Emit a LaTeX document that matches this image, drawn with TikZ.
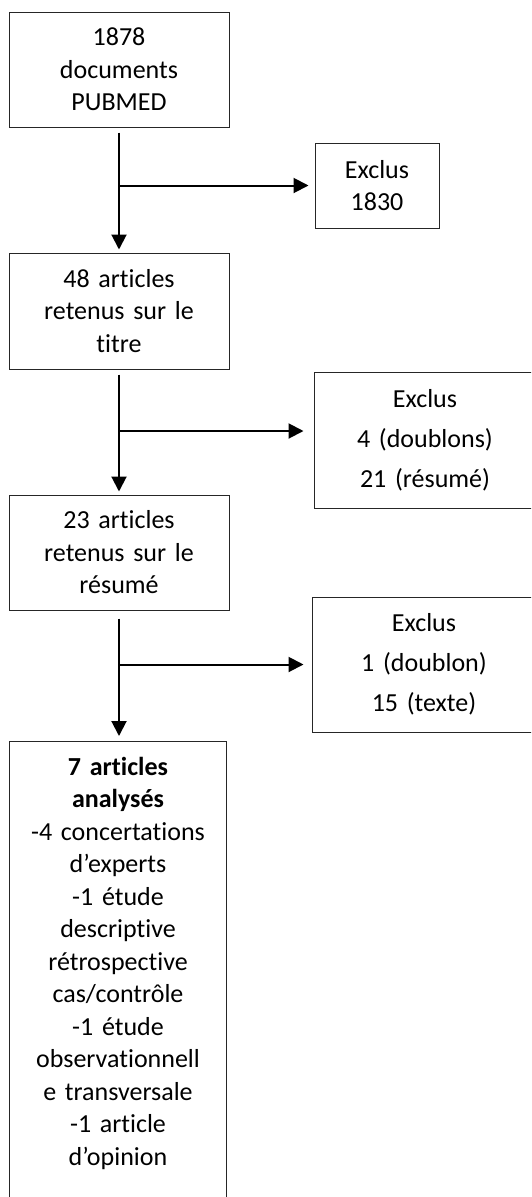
\documentclass[tikz,border=0pt]{standalone}
\usepackage{fontspec}
\setmainfont[Ligatures=NoCommon]{Carlito}
\usetikzlibrary{arrows.meta}
\begin{document}
\begin{tikzpicture}[x=1pt,y=-1pt,>={Triangle[length=15pt,width=15pt]},line join=miter,
	font=\fontsize{26}{32.5}\selectfont,
	box/.style={draw=black!85,line width=1pt,inner sep=0pt,align=center,text width=200pt},
	exbox/.style={box,font=\fontsize{26}{40}\selectfont},
	flow/.style={->,line width=2pt}]
	\clip (0,0) rectangle (531,1197);
	% boites principales
	\node[box,minimum width=220,minimum height=115] (doc) at (119,69.5) {1878\\documents\\PUBMED};
	\node[box,minimum width=220,minimum height=116] (titre) at (119,311) {48 articles\\retenus sur le\\titre};
	\node[box,minimum width=220,minimum height=115] (resume) at (119,552.5) {23 articles\\retenus sur le\\résumé};
	\node[draw=black!85,line width=1pt,minimum width=216.5,minimum height=480,anchor=north] (final) at (118,741) {};
	\node[align=center,text width=210pt,inner sep=0pt,anchor=north] (finaltxt) at ([yshift=-16pt]final.north)
	{\textbf{7 articles}\\\textbf{analysés}\\-4 concertations\\d’experts\\-1 étude\\descriptive\\rétrospective\\cas/contrôle\\-1 étude\\observationnell\\e transversale\\-1 article\\d’opinion};
	% exclus
	\node[box,text width=110pt,minimum width=124,minimum height=85] (ex1) at (377,185.5) {Exclus\\1830};
	\node[exbox,minimum width=222,minimum height=136] (ex2) at (425,440) {Exclus\\4 (doublons)\\21 (résumé)};
	\node[exbox,minimum width=224,minimum height=135] (ex3) at (424,664.5) {Exclus\\1 (doublon)\\15 (texte)};
	% fleches
	\coordinate (j1) at (doc.south |- ex1.west);
	\coordinate (j2) at (119,431);
	\coordinate (j3) at (resume.south |- ex3.west);
	\draw[flow,shorten <=5pt,shorten >=3pt] (doc.south) -- (titre.north);
	\draw[flow,shorten <=5pt,shorten >=3pt] (titre.south) -- (resume.north);
	\draw[flow,shorten <=8pt,shorten >=5pt] (resume.south) -- (resume.south |- final.north);
	\draw[flow,shorten >=6pt] (j1) -- (ex1.west);
	\draw[flow,shorten >=10pt] (j2) -- (j2 -| ex2.west);
	\draw[flow,shorten >=8pt] (j3) -- (ex3.west);
\end{tikzpicture}
\end{document}
